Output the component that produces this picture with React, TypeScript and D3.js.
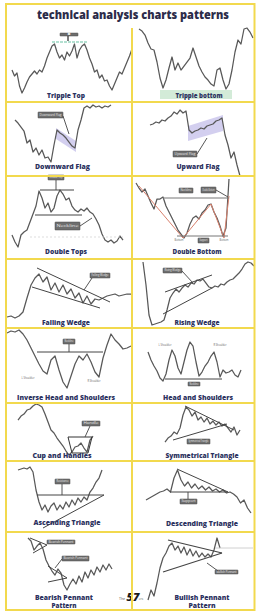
import React from 'react';
import * as d3 from 'd3';

const W = 256;
const H = 612;

const titleText = 'technical analysis charts patterns';

// price series: height above each panel baseline, evenly spaced in time
const trippleTop = [32,26,29,16,9,14,20,25,28,31,28,32,30,36,44,50,56,58,50,44,47,42,50,46,51,58,44,52,56,58,52,44,38,30,32,24,27,21,22,16,12,18,24,30,28,34,40,46,53];
const trippleBottom = [73,71,67,59,53,52,40,24,14,22,34,45,32,39,32,36,40,44,54,45,36,30,25,22,18,16,32,34,22,13,18,32,50,62,58,73,74,70,64];
const downwardFlag = [56,53,49,45,33,36,24,28,21,26,18,19,14,31,46,43,41,38,34,30,28,46,56,68,70,68,71,69,70,68,70,69,71];
const upwardFlag = [51,52,54,53,56,55,58,60,64,62,66,63,65,46,43,45,46,48,47,50,51,52,55,56,58,41,31,18,24,11,0];
const doubleTops = [24,17,12,24,27,29,37,45,53,68,61,51,56,47,51,63,69,65,59,61,53,49,47,50,48,51,47,45,40,34,25,19,17,19,16,18,23,19];
const doubleBottom = [76,71,67,70,63,56,50,60,60,62,53,47,41,35,29,25,21,26,35,41,43,40,46,49,54,55,47,41,33,23,31,80];
const fallingWedge = [11,12,10,12,16,30,43,50,54,46,51,38,45,36,43,34,39,30,35,25,32,24,29,28,30,32,33,34,32,33,34,34];
const risingWedge = [66,43,13,3,4,5,6,8,18,30,35,39,36,40,43,41,45,44,48,47,49,45,41,40,42,41,44,43,46,48,49,52,55,59,64,66,65,62];
const inverseHS = [70,72,71,73,69,63,55,47,39,32,29,43,47,33,21,15,27,39,47,43,49,41,31,26,45,58,69,63,59,54,55,57];
const headShoulders = [51,43,37,32,25,22,29,43,53,47,35,29,41,53,61,57,41,27,31,37,41,47,51,41,26,33,30,31,33,28,26,33];
const cupHandle = [41,45,47,51,52,55,57,56,54,47,39,31,28,23,19,15,10,6,9,14,15,18,13,9,21,25];
const symTriangle = [19,23,25,29,27,33,46,54,51,45,49,41,44,39,43,37,40,36,39,35,37,33,29,34,26,31];
const ascTriangle = [62,63,64,63,65,60,42,30,22,27,20,26,29,22,27,23,30,25,32,27,34,30,35,32,40,44,50,54,62];
const descTriangle = [32,34,36,38,40,41,43,40,54,62,52,46,50,44,48,43,46,42,45,41,43,40,42,39,40,38,35,29,32,24,19];
const bearishPennant = [72,69,60,64,67,61,50,44,39,35,41,37,25,20,26,31,26,34,28,38,32,40,35,43,38,45,40,46,41];
const bullishPennant = [10,20,14,27,42,52,57,64,67,60,64,57,63,55,61,54,59,53,57,53,56,53,60,72,62];

const patternNames = [
  ['Tripple Top'], ['Tripple bottom'],
  ['Downward Flag'], ['Upward Flag'],
  ['Double Tops'], ['Double Bottom'],
  ['Falling Wedge'], ['Rising Wedge'],
  ['Inverse Head and Shoulders'], ['Head and Shoulders'],
  ['Cup and Handles'], ['Symmetrical Triangle'],
  ['Ascending Triangle'], ['Descending Triangle'],
  ['Bearish Pennant', 'Pattern'], ['Bullish Pennant', 'Pattern'],
];

// layout
const COLS = [
  { left: 7, width: 124 },
  { left: 133, width: 120 },
];
const ROWS = [
  { top: 28, bottom: 102 },
  { top: 102, bottom: 176 },
  { top: 176, bottom: 259 },
  { top: 259, bottom: 328 },
  { top: 328, bottom: 403 },
  { top: 403, bottom: 461 },
  { top: 461, bottom: 532 },
  { top: 532, bottom: 610 },
];

const YELLOW = '#f2d94e';
const NAVY = '#2c3260';
const LINE = '#585858';
const DARK = '#444';
const FLAG = '#cbc7ec';
const RED = '#d8806c';

type Ann =
  | { t: 'path'; pts: number[][]; c?: string; w?: number; d?: string; fill?: string }
  | { t: 'box'; x: number; y: number; w: number; h: number; s: string }
  | { t: 'bg'; x: number; y: number; w: number; h: number; fill: string }
  | { t: 'note'; x: number; y: number; s: string };

type Panel = {
  col: number; row: number; data: number[]; x0: number; step: number;
  lx: number; ly: number; lw: number[]; ann: Ann[];
};

const panels: Panel[] = [
  { col: 0, row: 0, data: trippleTop, x0: 5, step: 2.5, lx: 59, ly: 4, lw: [38], ann: [
    { t: 'path', pts: [[45, 60], [81, 60]], c: '#9ad6c2', w: 1.6, d: '3 1' },
    { t: 'box', x: 53, y: 69, w: 18, h: 3, s: 'T' },
    { t: 'path', pts: [[61, 66], [61, 61]], c: DARK, w: 1.4 },
  ] },
  { col: 1, row: 0, data: trippleBottom, x0: 6, step: 3, lx: 66, ly: 4, lw: [47], ann: [
    { t: 'bg', x: 27, y: 12, w: 72, h: 9, fill: '#d3ebd8' },
  ] },
  { col: 0, row: 1, data: downwardFlag, x0: 8, step: 3, lx: 55.5, ly: 7, lw: [55], ann: [
    { t: 'path', pts: [[49, 48], [69, 35], [69, 24], [49, 37]], fill: FLAG, c: 'none' },
    { t: 'box', x: 31, y: 64, w: 25, h: 6, s: 'Downward Flag' },
    { t: 'path', pts: [[56, 60], [62, 42]], c: DARK, w: 0.9 },
  ] },
  { col: 1, row: 1, data: upwardFlag, x0: 17, step: 3, lx: 65, ly: 7, lw: [43], ann: [
    { t: 'path', pts: [[55, 50], [90, 61], [90, 45], [55, 35]], fill: FLAG, c: 'none' },
    { t: 'box', x: 40, y: 25, w: 24, h: 6, s: 'Upward Flag' },
    { t: 'path', pts: [[64, 22], [74, 38]], c: DARK, w: 0.9 },
  ] },
  { col: 0, row: 2, data: doubleTops, x0: 5, step: 3, lx: 59, ly: 5, lw: [42], ann: [
    { t: 'path', pts: [[23, 22], [116, 22]], c: '#d4d4d4', w: 0.8, d: '2 2' },
    { t: 'box', x: 41, y: 84, w: 16, h: 5, s: 'Double Top' },
    { t: 'path', pts: [[49, 79], [49, 69]], c: DARK, w: 0.9 },
    { t: 'path', pts: [[33, 69], [67, 69]], c: DARK, w: 1 },
    { t: 'path', pts: [[28, 44], [75, 44]], c: DARK, w: 1 },
    { t: 'box', x: 48, y: 37, w: 25, h: 8, s: 'Neckline' },
    { t: 'path', pts: [[73, 33], [85, 41]], c: DARK, w: 0.9 },
  ] },
  { col: 1, row: 2, data: doubleBottom, x0: 3, step: 3, lx: 64, ly: 5, lw: [49], ann: [
    { t: 'path', pts: [[6, 73], [50, 21], [78, 55], [91, 21], [96, 63]], c: RED, w: 1 },
    { t: 'path', pts: [[30, 61], [96, 61]], c: '#777', w: 1 },
    { t: 'path', pts: [[44, 23], [95, 23]], c: '#777', w: 1 },
    { t: 'box', x: 46, y: 71, w: 14, h: 5, s: 'Neckline' },
    { t: 'box', x: 68, y: 72, w: 15, h: 6, s: 'Double Bottom' },
    { t: 'path', pts: [[83, 69], [95, 62]], c: DARK, w: 0.9 },
    { t: 'box', x: 65, y: 21, w: 11, h: 5, s: 'Support' },
    { t: 'note', x: 46, y: 18, s: 'Bottom' },
    { t: 'note', x: 91, y: 18, s: 'Bottom' },
  ] },
  { col: 0, row: 3, data: fallingWedge, x0: 0, step: 4, lx: 59, ly: 3, lw: [48], ann: [
    { t: 'path', pts: [[30, 60], [103, 26]], c: DARK, w: 1 },
    { t: 'path', pts: [[25, 41], [93, 20]], c: DARK, w: 1 },
    { t: 'box', x: 83, y: 55, w: 20, h: 5, s: 'Falling Wedge' },
    { t: 'path', pts: [[85, 50], [77, 38]], c: DARK, w: 0.9 },
  ] },
  { col: 1, row: 3, data: risingWedge, x0: 10, step: 3, lx: 64, ly: 3, lw: [45], ann: [
    { t: 'path', pts: [[32, 36], [79, 53]], c: DARK, w: 1 },
    { t: 'path', pts: [[30, 14], [79, 40]], c: DARK, w: 1 },
    { t: 'box', x: 30, y: 60, w: 19, h: 5, s: 'Rising Wedge' },
    { t: 'path', pts: [[49, 57], [60, 45]], c: DARK, w: 0.9 },
  ] },
  { col: 0, row: 4, data: inverseHS, x0: 0, step: 4, lx: 59, ly: 3.5, lw: [98], ann: [
    { t: 'path', pts: [[30, 51], [96, 51]], c: DARK, w: 1 },
    { t: 'box', x: 56, y: 64, w: 12, h: 5, s: 'Neckline' },
    { t: 'path', pts: [[62, 59], [62, 51]], c: DARK, w: 0.9 },
    { t: 'note', x: 21, y: 24, s: 'L Shoulder' },
    { t: 'note', x: 87, y: 21, s: 'R Shoulder' },
  ] },
  { col: 1, row: 4, data: headShoulders, x0: 15, step: 3, lx: 65, ly: 3.5, lw: [70], ann: [
    { t: 'path', pts: [[32, 24], [89, 24]], c: DARK, w: 1 },
    { t: 'box', x: 55, y: 21, w: 12, h: 4, s: 'Neckline' },
    { t: 'note', x: 32, y: 57, s: 'L Shoulder' },
    { t: 'note', x: 87, y: 57, s: 'R Shoulder' },
  ] },
  { col: 0, row: 5, data: cupHandle, x0: 11, step: 3, lx: 55, ly: 3, lw: [59], ann: [
    { t: 'path', pts: [[61, 24], [85, 24], [81, 8], [65, 8], [61, 24]], c: '#333', w: 1 },
    { t: 'box', x: 75, y: 40, w: 18, h: 5, s: 'Handle' },
    { t: 'path', pts: [[83, 35], [78, 24]], c: DARK, w: 0.9 },
  ] },
  { col: 1, row: 5, data: symTriangle, x0: 32, step: 3, lx: 69, ly: 3, lw: [73], ann: [
    { t: 'path', pts: [[52, 55], [101, 31]], c: DARK, w: 1 },
    { t: 'path', pts: [[40, 21], [94, 37]], c: DARK, w: 1 },
    { t: 'box', x: 54, y: 22, w: 23, h: 5, s: 'Symmetrical Triangle' },
  ] },
  { col: 0, row: 6, data: ascTriangle, x0: 11, step: 3, lx: 60, ly: 7, lw: [67], ann: [
    { t: 'path', pts: [[30, 37], [97, 37]], c: DARK, w: 1 },
    { t: 'path', pts: [[36, 4], [97, 37]], c: DARK, w: 1 },
    { t: 'box', x: 48, y: 53, w: 15, h: 5, s: 'Resistance' },
    { t: 'path', pts: [[55, 48], [55, 37]], c: DARK, w: 0.9 },
  ] },
  { col: 1, row: 6, data: descTriangle, x0: 13, step: 3.5, lx: 69, ly: 6, lw: [72], ann: [
    { t: 'path', pts: [[44, 63], [95, 40]], c: DARK, w: 1 },
    { t: 'path', pts: [[37, 40], [95, 40]], c: DARK, w: 1 },
    { t: 'box', x: 47, y: 33, w: 17, h: 5, s: 'Support' },
    { t: 'path', pts: [[55, 40], [55, 33]], c: DARK, w: 0.9 },
  ] },
  { col: 0, row: 7, data: bearishPennant, x0: 21, step: 3, lx: 57, ly: 10.5, lw: [58, 25], ann: [
    { t: 'path', pts: [[23, 72], [40, 65], [26, 57]], c: DARK, w: 1 },
    { t: 'box', x: 40, y: 70, w: 28, h: 4, s: 'Bearish Pennant' },
    { t: 'path', pts: [[41, 44], [60, 32], [41, 28]], c: DARK, w: 1 },
    { t: 'box', x: 55, y: 54, w: 27, h: 5, s: 'Bearish Pennant' },
    { t: 'path', pts: [[55, 51], [48, 42]], c: DARK, w: 0.9 },
  ] },
  { col: 1, row: 7, data: bullishPennant, x0: 15, step: 3, lx: 69, ly: 10.5, lw: [55, 27], ann: [
    { t: 'path', pts: [[82, 62], [120, 62]], c: '#c4c4c4', w: 0.8 },
    { t: 'path', pts: [[35, 70], [89, 57]], c: DARK, w: 1.1 },
    { t: 'path', pts: [[30, 38], [89, 57]], c: DARK, w: 1.1 },
    { t: 'box', x: 82, y: 40, w: 23, h: 4, s: 'Bullish Pennant' },
    { t: 'path', pts: [[74, 47], [85, 39]], c: DARK, w: 0.9 },
  ] },
];

const FONT = '"Open Sans", "DejaVu Sans", sans-serif';

function PanelView({ p, idx }: { p: Panel; idx: number }) {
  const col = COLS[p.col];
  const row = ROWS[p.row];
  const xs = d3.scaleLinear().domain([0, col.width]).range([col.left, col.left + col.width]);
  const ys = d3.scaleLinear().domain([0, 100]).range([row.bottom, row.bottom - 100]);
  const series = d3
    .line<number>()
    .x((_, i) => xs(p.x0 + i * p.step))
    .y((v) => ys(v));
  const poly = d3
    .line<number[]>()
    .x((d) => xs(d[0]))
    .y((d) => ys(d[1]));
  const names = patternNames[idx];
  const renderAnn = (a: Ann, i: number) => {
    if (a.t === 'bg') {
      return <rect key={i} x={xs(a.x)} y={ys(a.y)} width={xs(a.x + a.w) - xs(a.x)} height={ys(a.y - a.h) - ys(a.y)} fill={a.fill} />;
    }
    if (a.t === 'path') {
      const closed = a.fill ? 'Z' : '';
      return (
        <path key={i} d={(poly(a.pts) || '') + closed} fill={a.fill || 'none'} stroke={a.c || DARK}
          strokeWidth={a.w || 1} strokeDasharray={a.d} opacity={a.fill ? 0.85 : 1} />
      );
    }
    if (a.t === 'box') {
      const x = xs(a.x), y = ys(a.y), w = xs(a.x + a.w) - xs(a.x), h = ys(a.y - a.h) - ys(a.y);
      return (
        <g key={i}>
          <rect x={x} y={y} width={w} height={h} fill="#6e6e6e" stroke="#4a4a4a" strokeWidth={0.5} rx={0.5} />
          <text x={x + w / 2} y={y + h / 2 + 0.9} textAnchor="middle" fontSize={2.6} fill="#e6e6e6" fontFamily={FONT}
            textLength={Math.max(2, w - 3)} lengthAdjust="spacingAndGlyphs">{a.s}</text>
        </g>
      );
    }
    return (
      <text key={i} x={xs(a.x)} y={ys(a.y)} textAnchor="middle" fontSize={2.6} fill="#666" fontFamily={FONT}>{a.s}</text>
    );
  };
  return (
    <g>
      {p.ann.filter((a) => a.t === 'bg' || (a.t === 'path' && a.fill)).map(renderAnn)}
      <path d={series(p.data) || ''} fill="none" stroke={LINE} strokeWidth={1.25} strokeLinejoin="round" />
      {p.ann.filter((a) => !(a.t === 'bg' || (a.t === 'path' && a.fill))).map(renderAnn)}
      {names.map((n, i) => (
        <text key={n + i} x={xs(p.lx)} y={ys(p.ly) + i * 8} textAnchor="middle" fontSize={7} fontWeight={800}
          fill={NAVY} fontFamily={FONT} textLength={p.lw[i]} lengthAdjust="spacingAndGlyphs">{n}</text>
      ))}
    </g>
  );
}

export default function App() {
  const gridY = ROWS.slice(0, -1).map((r) => r.bottom);
  return (
    <svg width={W} height={H} viewBox={`0 0 ${W} ${H}`} style={{ position: 'absolute', left: 0, top: 0, background: '#fff' }}>
      <rect x={0} y={0} width={W} height={H} fill="#fff" />
      <text x={133} y={18.5} textAnchor="middle" fontSize={12} fontWeight={800} fill="#2c2c4a" fontFamily={FONT}
        textLength={192} lengthAdjust="spacingAndGlyphs">{titleText}</text>
      {panels.map((p, i) => <PanelView key={i} p={p} idx={i} />)}
      <g>
        <text x={122} y={600} textAnchor="middle" fontSize={3.5} fill="#555" fontFamily={FONT}>The</text>
        <text x={133} y={600.5} textAnchor="middle" fontSize={11} fontWeight={800} fontStyle="italic" fill="#1a1a1a" fontFamily={FONT}>57</text>
        <text x={141} y={600} textAnchor="middle" fontSize={3} fill="#555" fontFamily={FONT}>ers</text>
      </g>
      <g stroke={YELLOW} fill="none" strokeWidth={2}>
        <rect x={6} y={4} width={248.5} height={606} />
        {gridY.map((y) => <line key={y} x1={6} x2={254.5} y1={y} y2={y} />)}
        <line x1={132} x2={132} y1={28} y2={610} />
      </g>
    </svg>
  );
}
